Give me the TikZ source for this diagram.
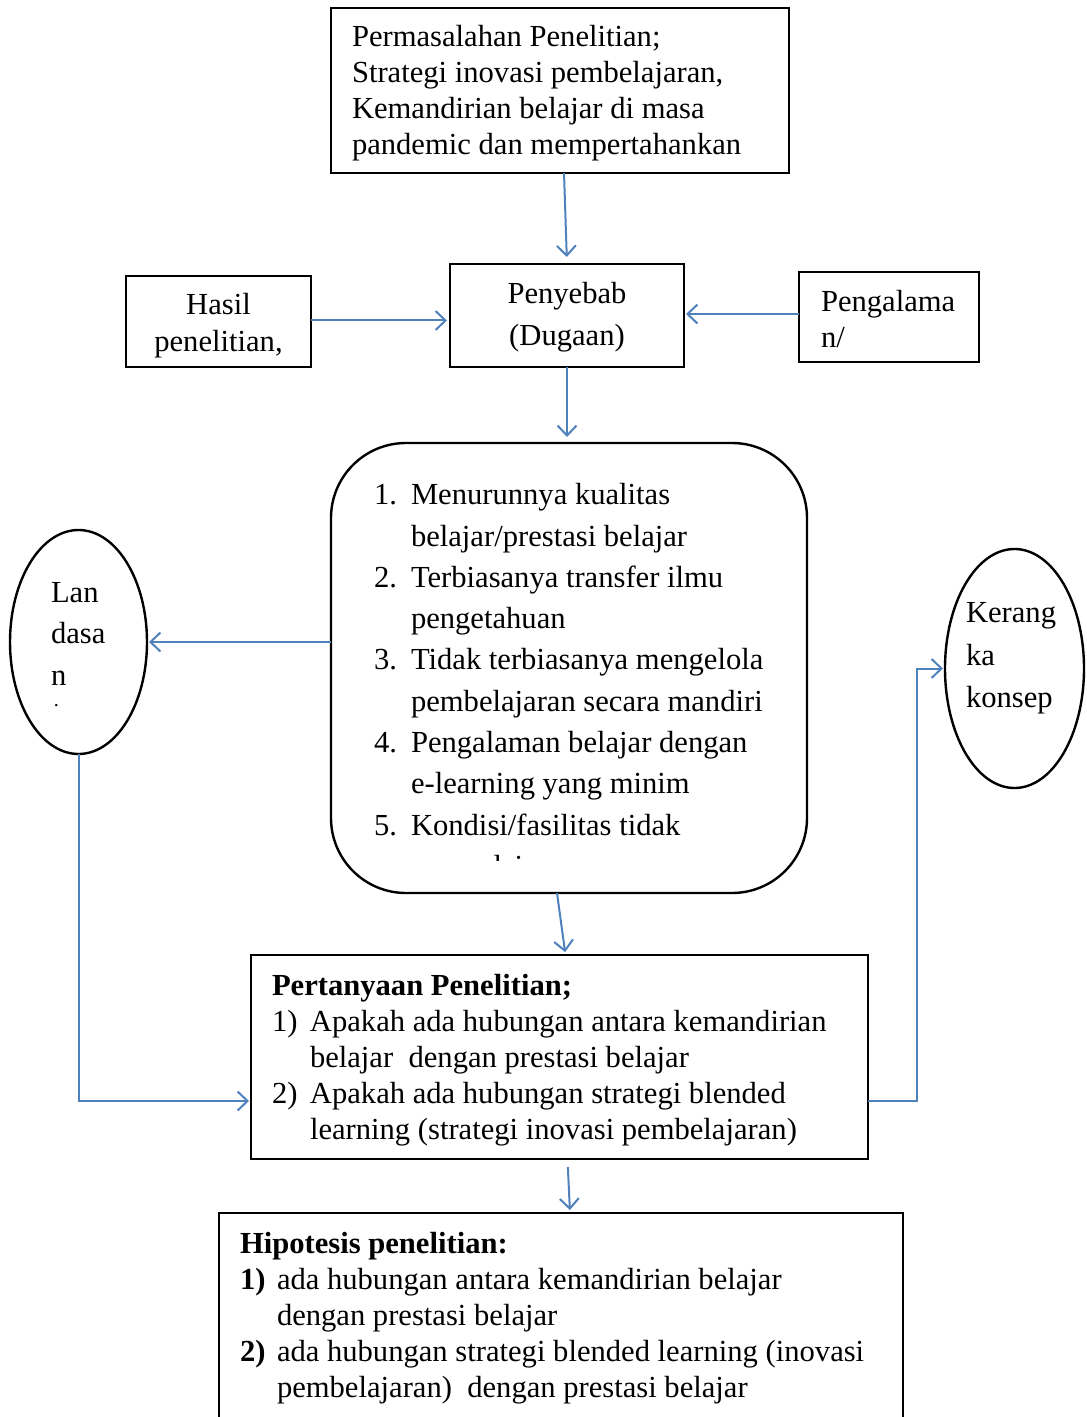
\documentclass[tikz,border=0pt]{standalone}
\usepackage{fontspec}
\setmainfont{Liberation Serif}
\usetikzlibrary{arrows.meta,shapes.geometric}
\definecolor{garis}{RGB}{79,129,189}
\newcommand{\nomor}[2][18.5pt]{\makebox[#1][l]{#2}}
\newcommand{\sisip}[1][18.5pt]{\hspace*{#1}}

\begin{document}
\begin{tikzpicture}[x=0.5pt,y=-0.5pt]
\tikzstyle{every node}+=[inner sep=0pt,outer sep=0pt]
\tikzstyle{kotak}=[draw=black,line width=1.2pt,rectangle]
\tikzstyle{bulat}=[draw=black,line width=1.2pt,ellipse]
\tikzstyle{tulisan}=[anchor=west,align=left,font=\fontsize{15.3}{18}\selectfont]
\tikzstyle{panah}=[draw=garis,line width=1pt,-{Straight Barb[length=5pt,width=9.5pt]}]
\clip (0,0) rectangle (1086,1417);
\node[kotak,minimum width=229pt,minimum height=82.5pt] (masalah) at (560,90.5) {};
\node[tulisan] (masalahtxt) at (352,93) {Permasalahan Penelitian;\\Strategi inovasi pembelajaran,\\Kemandirian belajar di masa\\pandemic dan mempertahankan};
\node[kotak,minimum width=117pt,minimum height=51.5pt] (penyebab) at (567,315.5) {};
\node[tulisan,anchor=center,align=center,font=\fontsize{15.3}{21}\selectfont] (penyebabtxt) at (567,317) {Penyebab\\(Dugaan)};
\node[kotak,minimum width=92.5pt,minimum height=45.5pt] (hasil) at (218.5,321.5) {};
\node[tulisan,anchor=center,align=center,font=\fontsize{15.3}{18.5}\selectfont] (hasiltxt) at (218.5,325.5) {Hasil\\penelitian,};
\node[kotak,minimum width=90pt,minimum height=45pt] (pengalaman) at (889,317) {};
\node[tulisan] (pengalamantxt) at (821,319) {Pengalama\\n/};
\node[kotak,rounded corners=37.5pt,minimum width=238pt,minimum height=225pt] (faktor) at (569,668) {};
\node[tulisan,font=\fontsize{15.3}{20.65}\selectfont] (faktortxt) at (374,659.5) {\nomor{1.}Menurunnya kualitas\\\sisip belajar/prestasi belajar\\\nomor{2.}Terbiasanya transfer ilmu\\\sisip pengetahuan\\\nomor{3.}Tidak terbiasanya mengelola\\\sisip pembelajaran secara mandiri\\\nomor{4.}Pengalaman belajar dengan\\\sisip e-learning yang minim\\\nomor{5.}Kondisi/fasilitas tidak};
\begin{scope}
\clip (331,443) rectangle (807,860);
\node[tulisan] (faktorsisa) at (411,866.5) {memadai};
\end{scope}
\node[bulat,minimum width=68.5pt,minimum height=112pt] (landasan) at (78.5,642) {};
\node[tulisan,font=\fontsize{15.3}{20.75}\selectfont] (landasantxt) at (51,633.5) {Lan\\dasa\\n};
\node[tulisan,font=\fontsize{10}{10}\selectfont] (landasantitik) at (54,706) {.};
\node[bulat,minimum width=69.5pt,minimum height=119.5pt] (kerangka) at (1014.5,668.5) {};
\node[tulisan,font=\fontsize{15.3}{21.25}\selectfont] (kerangkatxt) at (966,658.5) {Kerang\\ka\\konsep};
\node[kotak,minimum width=308.5pt,minimum height=102pt] (pertanyaan) at (559.5,1057) {};
\node[tulisan] (pertanyaantxt) at (272,1060) {\textbf{Pertanyaan Penelitian;}\\\nomor[19pt]{1)}Apakah ada hubungan antara kemandirian\\\sisip[19pt]belajar\ \ dengan prestasi belajar\\\nomor[19pt]{2)}Apakah ada hubungan strategi blended\\\sisip[19pt]learning (strategi inovasi pembelajaran)};
\node[kotak,minimum width=342pt,minimum height=118.5pt] (hipotesis) at (561,1331.5) {};
\node[tulisan] (hipotesistxt) at (240,1318.5) {\textbf{Hipotesis penelitian:}\\\nomor{\textbf{1)}}ada hubungan antara kemandirian belajar\\\sisip dengan prestasi belajar\\\nomor{\textbf{2)}}ada hubungan strategi blended learning (inovasi\\\sisip pembelajaran)\ \ dengan prestasi belajar};
\draw[panah,shorten >=3.5pt] ([xshift=2pt]masalah.south) -- (penyebab.north);
\draw[panah,shorten >=1.5pt] ([yshift=0.5pt]hasil.east) -- ([yshift=0.5pt]hasil.east -| penyebab.west);
\draw[panah,shorten >=1pt] ([yshift=1.5pt]pengalaman.west) -- ([yshift=1.5pt]pengalaman.west -| penyebab.east);
\draw[panah,shorten >=3pt] (penyebab.south) -- (penyebab.south |- faktor.north);
\draw[panah,shorten >=1pt] (faktor.west |- landasan.east) -- (landasan.east);
\draw[panah,shorten >=1.5pt] ([xshift=-6pt]faktor.south) -- ([xshift=3pt]pertanyaan.north);
\draw[panah,shorten >=1pt] (landasan.south) |- ([yshift=-22pt]pertanyaan.west);
\draw[panah,shorten >=1pt] ([yshift=-22pt]pertanyaan.east) -- ++(24.5pt,0) |- (kerangka.west);
\draw[panah,shorten <=4pt,shorten >=1.5pt] ([xshift=4pt]pertanyaan.south) -- ([xshift=4.5pt]hipotesis.north);
\end{tikzpicture}
\end{document}
